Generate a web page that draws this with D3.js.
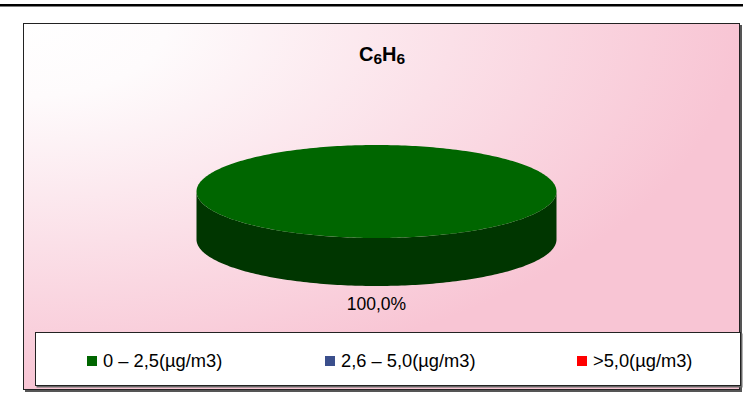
<!DOCTYPE html>
<html>
<head>
<meta charset="utf-8">
<script src="https://cdn.jsdelivr.net/npm/d3@7"></script>
<style>
  body { margin: 0; background: #fff; }
  svg { display: block; font-family: "Liberation Sans", Arial, sans-serif; }
</style>
</head>
<body>
<div id="chart"></div>
<script>
// data
const categories = ['0 \u2013 2,5(\u00b5g/m3)', '2,6 \u2013 5,0(\u00b5g/m3)', '>5,0(\u00b5g/m3)']
const values = [100, 0, 0]
const colors = ['#006600', '#3b4f8c', '#ff0000']
const sideColors = ['#003600', '#1f2b4d', '#8c0000']

const width = 743
const height = 401

let svg = d3.select('#chart')
    .append('svg')
    .attr('width', width)
    .attr('height', height)

let defs = svg.append('defs')
let grad = defs.append('radialGradient')
    .attr('id', 'bg')
    .attr('cx', 0).attr('cy', 0).attr('r', 1)
    .attr('fx', 0).attr('fy', 0)
grad.append('stop').attr('offset', '0').attr('stop-color', '#ffffff')
grad.append('stop').attr('offset', '0.2').attr('stop-color', '#fefbfc')
grad.append('stop').attr('offset', '1').attr('stop-color', '#f8c5d4')

// top rule
svg.append('rect')
    .attr('x', 0).attr('y', 4)
    .attr('width', width).attr('height', 2.5)
    .attr('fill', '#000')

// chart area (with shadow)
svg.append('rect')
    .attr('x', 25).attr('y', 25)
    .attr('width', 717).attr('height', 367)
    .attr('fill', '#555')
svg.append('rect')
    .attr('x', 23.5).attr('y', 23.5)
    .attr('width', 716).attr('height', 366)
    .attr('fill', 'url(#bg)')
    .attr('stroke', '#222')
    .attr('stroke-width', 1)

// title
let title = svg.append('text')
    .attr('x', 382)
    .attr('y', 61)
    .attr('text-anchor', 'middle')
    .attr('font-size', 20)
    .attr('font-weight', 'bold')
    .attr('fill', '#000')
title.append('tspan').text('C')
title.append('tspan').attr('font-size', 15.5).attr('dy', 3).text('6')
title.append('tspan').attr('dy', -3).text('H')
title.append('tspan').attr('font-size', 15.5).attr('dy', 3).text('6')

// 3D pie
const cx = 376.5
const cy = 191.5
const rx = 180
const ry = 46.5
const depth = 48

let pie = d3.pie().sort(null).value((d) => d)
let arcs = pie(values)

let pt = (a, dy) => [cx + rx * Math.sin(a), cy - ry * Math.cos(a) + (dy || 0)]

let arcPoints = (a0, a1, dy) => {
    let n = Math.max(2, Math.ceil((a1 - a0) / 0.02))
    let pts = []
    for (let i = 0; i <= n; i++) pts.push(pt(a0 + (a1 - a0) * i / n, dy))
    return pts
}

let line = d3.line()

let topPath = (d) => {
    let pts = arcPoints(d.startAngle, d.endAngle, 0)
    if (d.endAngle - d.startAngle < 2 * Math.PI - 1e-6) pts.unshift([cx, cy])
    return line(pts) + 'Z'
}

let sidePath = (d) => {
    let a0 = Math.max(d.startAngle, Math.PI / 2)
    let a1 = Math.min(d.endAngle, 3 * Math.PI / 2)
    if (a1 <= a0) return null
    let upper = arcPoints(a0, a1, 0)
    let lower = arcPoints(a0, a1, depth).reverse()
    return line(upper.concat(lower)) + 'Z'
}

let pieG = svg.append('g')

pieG.selectAll('.side')
    .data(arcs.filter((d) => d.value > 0))
    .enter().append('path')
    .attr('class', 'side')
    .attr('d', sidePath)
    .attr('fill', (d) => sideColors[d.index])

pieG.selectAll('.top')
    .data(arcs.filter((d) => d.value > 0))
    .enter().append('path')
    .attr('class', 'top')
    .attr('d', topPath)
    .attr('fill', (d) => colors[d.index])

let total = d3.sum(values)
let pctFormat = d3.format('.1%')

pieG.selectAll('.lbl')
    .data(arcs.filter((d) => d.value > 0))
    .enter().append('text')
    .attr('class', 'lbl')
    .attr('x', (d) => cx + (rx + 10) * Math.sin((d.startAngle + d.endAngle) / 2))
    .attr('y', (d) => cy - (ry + 10) * Math.cos((d.startAngle + d.endAngle) / 2) + depth + 14)
    .attr('text-anchor', 'middle')
    .attr('font-size', 17.5)
    .attr('fill', '#000')
    .text((d) => pctFormat(d.value / total).replace('.', ','))

// legend box
svg.append('rect')
    .attr('x', 36.5).attr('y', 333.5)
    .attr('width', 706).attr('height', 54)
    .attr('fill', '#666')
svg.append('rect')
    .attr('x', 35.5).attr('y', 332.5)
    .attr('width', 705).attr('height', 53)
    .attr('fill', '#fff')
    .attr('stroke', '#222')
    .attr('stroke-width', 1)

const legendX = [87, 325, 577]
let leg = svg.selectAll('.legend')
    .data(categories)
    .enter().append('g')
    .attr('class', 'legend')
    .attr('transform', (d, i) => `translate(${legendX[i]}, 356)`)

leg.append('rect')
    .attr('width', 10).attr('height', 10)
    .attr('fill', (d, i) => colors[i])

leg.append('text')
    .attr('x', 16)
    .attr('y', 11)
    .attr('font-size', 18.3)
    .attr('fill', '#000')
    .text((d) => d)
</script>
</body>
</html>
